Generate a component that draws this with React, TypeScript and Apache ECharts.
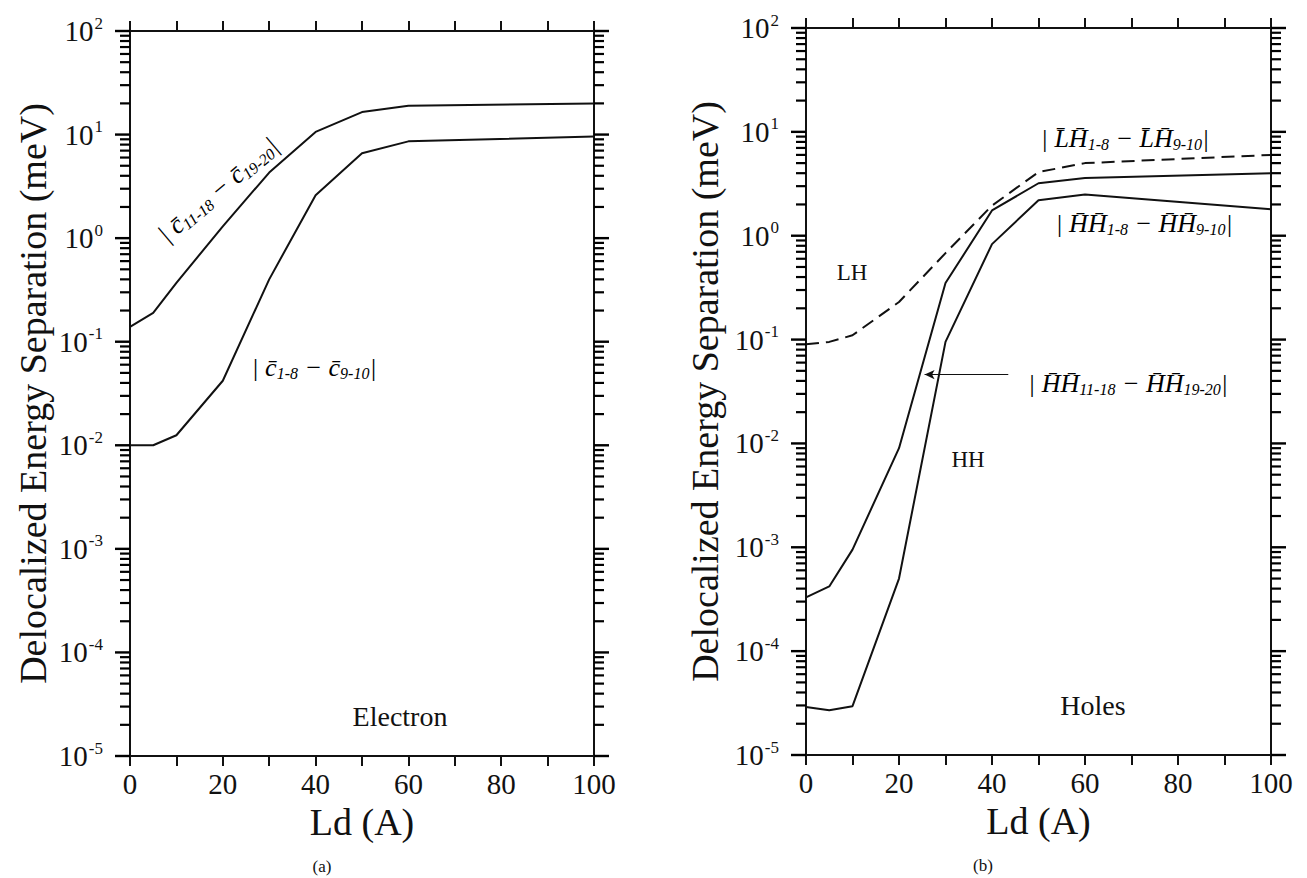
import { useEffect, useRef } from 'react';
import * as echarts from 'echarts';

// Ld (Angstrom) sample points
const ld = [0, 5, 10, 20, 30, 40, 50, 60, 100];
// (a) Electron
const elecUpper = [0.139, 0.19, 0.37, 1.3, 4.3, 10.6, 16.5, 19.0, 20.0]; // |C11-18 - C19-20|
const elecLower = [0.01, 0.01, 0.0125, 0.042, 0.4, 2.6, 6.6, 8.6, 9.6]; // |C1-8 - C9-10|
// (b) Holes
const lhCurve = [0.09, 0.095, 0.11, 0.23, 0.68, 1.95, 4.1, 5.0, 6.0]; // |LH1-8 - LH9-10|
const hhUpper = [3.3e-4, 4.2e-4, 9.5e-4, 0.009, 0.35, 1.75, 3.2, 3.6, 4.0]; // |HH11-18 - HH19-20|
const hhLower = [2.9e-5, 2.7e-5, 2.95e-5, 5e-4, 0.095, 0.83, 2.2, 2.5, 1.8]; // |HH1-8 - HH9-10|

const xLabelValues = [0, 20, 40, 60, 80, 100];
const decadeExponents = [-5, -4, -3, -2, -1, 0, 1, 2];
const minorMultipliers = [2, 3, 4, 5, 6, 7, 8, 9];

const SERIF = "'Liberation Serif', 'Times New Roman', serif";
const BLACK = '#111';

// y tick values of the log axis: [value, isMajor]
const yTickValues: [number, number][] = [];
decadeExponents.forEach((n, i) => {
  yTickValues.push([Math.pow(10, n), 1]);
  if (i < decadeExponents.length - 1) {
    minorMultipliers.forEach((k) => yTickValues.push([k * Math.pow(10, n), 0]));
  }
});

const grids = [
  { left: 130, top: 31, width: 464, height: 725 },
  { left: 806, top: 28, width: 465, height: 727 },
];

function makeYAxes(g: number, nameGap: number) {
  const line = { show: true, onZero: false, lineStyle: { color: BLACK, width: 2 } };
  return [
    {
      type: 'log', gridIndex: g, min: 1e-5, max: 100, logBase: 10,
      position: 'right',
      axisLine: line, axisTick: { show: false }, axisLabel: { show: false },
      splitLine: { show: false }, minorTick: { show: false },
    },
    {
      type: 'value', gridIndex: g, min: -5, max: 2, interval: 1, position: 'left',
      axisLine: line,
      axisTick: { show: false },
      splitLine: { show: false },
      axisLabel: {
        show: true, margin: 27, showMinLabel: true, showMaxLabel: true,
        formatter: (v: number) => `{b|10}{s|${v}}`,
        rich: {
          b: { fontFamily: SERIF, fontSize: 29, color: BLACK },
          s: { fontFamily: SERIF, fontSize: 17, color: BLACK, padding: [0, 0, 16, 1] },
        },
      },
      name: 'Delocalized Energy Separation (meV)',
      nameLocation: 'middle', nameRotate: 90, nameGap,
      nameTextStyle: { fontFamily: SERIF, fontSize: 38, color: BLACK },
    },
  ];
}

function makeXAxes(g: number) {
  const line = { show: true, onZero: false, lineStyle: { color: BLACK, width: 2 } };
  const tick = { show: true, inside: false, length: 10, lineStyle: { color: BLACK, width: 2 } };
  return [
    {
      type: 'value', gridIndex: g, min: 0, max: 100, interval: 10, position: 'bottom',
      axisLine: line, axisTick: tick,
      splitLine: { show: false },
      axisLabel: {
        margin: 13, fontFamily: SERIF, fontSize: 29, color: BLACK,
        formatter: (v: number) => (xLabelValues.includes(v) ? String(v) : ''),
      },
      name: 'Ld (A)', nameLocation: 'middle', nameGap: 46,
      nameTextStyle: { fontFamily: SERIF, fontSize: 38, color: BLACK },
    },
    {
      type: 'value', gridIndex: g, min: 0, max: 100, interval: 10, position: 'top',
      axisLine: line, axisTick: tick,
      splitLine: { show: false }, axisLabel: { show: false },
    },
  ];
}

const pairs = (ys: number[]) => ld.map((x, i) => [x, ys[i]]);

// y-axis tick marks (major decades and 2..9 minors) on both vertical edges,
// positioned through the log axis scale
function tickSeries(xIdx: number, yIdx: number) {
  return {
    type: 'custom', xAxisIndex: xIdx, yAxisIndex: yIdx, clip: false, z: 5,
    data: yTickValues.map(([v, m]) => [0, v, m]),
    encode: { x: 0, y: 1 },
    renderItem: (_params: any, api: any) => {
      const v = api.value(1);
      const major = api.value(2) === 1;
      const len = major ? 15 : 10;
      const pL = api.coord([0, v]);
      const pR = api.coord([100, v]);
      const style = { stroke: '#000', lineWidth: major ? 2.4 : 2.2 };
      return {
        type: 'group',
        children: [
          { type: 'line', shape: { x1: pL[0] - len, y1: pL[1], x2: pL[0], y2: pL[1] }, style },
          { type: 'line', shape: { x1: pR[0], y1: pR[1], x2: pR[0] + len, y2: pR[1] }, style },
        ],
      };
    },
  };
}

const handRich = {
  t: { fontFamily: SERIF, fontStyle: 'italic', fontSize: 26, color: BLACK },
  u: { fontFamily: SERIF, fontStyle: 'italic', fontSize: 16, color: BLACK, padding: [12, 0, 0, 0] },
};

function hand(x: number, y: number, text: string, rotationDeg = 0) {
  return {
    type: 'text', x, y, rotation: (rotationDeg * Math.PI) / 180, silent: true,
    style: { text, align: 'center', verticalAlign: 'middle', rich: handRich },
  };
}

function plain(x: number, y: number, text: string, fontSize: number) {
  return {
    type: 'text', x, y, silent: true,
    style: { text, fontFamily: SERIF, fontSize, fill: BLACK, align: 'center', verticalAlign: 'middle' },
  };
}

export default function App() {
  const ref = useRef<HTMLDivElement>(null);
  useEffect(() => {
    if (!ref.current) return;
    const chart = echarts.init(ref.current, undefined, { renderer: 'svg' });
    const solid = { color: BLACK, width: 2 };
    const option: any = {
      animation: false,
      backgroundColor: '#fff',
      textStyle: { fontFamily: SERIF },
      grid: grids,
      xAxis: [...makeXAxes(0), ...makeXAxes(1)],
      yAxis: [...makeYAxes(0, 78), ...makeYAxes(1, 82)],
      series: [
        tickSeries(0, 0),
        tickSeries(2, 2),
        { name: '|C11-18 - C19-20|', type: 'line', xAxisIndex: 0, yAxisIndex: 0, data: pairs(elecUpper), symbol: 'none', lineStyle: solid },
        { name: '|C1-8 - C9-10|', type: 'line', xAxisIndex: 0, yAxisIndex: 0, data: pairs(elecLower), symbol: 'none', lineStyle: solid },
        { name: '|LH1-8 - LH9-10|', type: 'line', xAxisIndex: 2, yAxisIndex: 2, data: pairs(lhCurve), symbol: 'none', lineStyle: { color: BLACK, width: 2, type: [13, 7] } },
        {
          name: '|HH11-18 - HH19-20|', type: 'line', xAxisIndex: 2, yAxisIndex: 2, data: pairs(hhUpper), symbol: 'none', lineStyle: solid,
          markLine: {
            silent: true, symbol: ['arrow', 'none'], symbolSize: [7, 10],
            label: { show: false },
            lineStyle: { color: BLACK, width: 1.2, type: 'solid' },
            data: [[{ coord: [25.5, 0.046] }, { coord: [43.5, 0.046] }]],
          },
        },
        { name: '|HH1-8 - HH9-10|', type: 'line', xAxisIndex: 2, yAxisIndex: 2, data: pairs(hhLower), symbol: 'none', lineStyle: solid },
      ],
      graphic: [
        hand(218, 190, '{t|| c\u0304}{u|11-18}{t| − c\u0304}{u|19-20}{t||}', 40),
        hand(314, 367, '{t|| c\u0304}{u|1-8}{t| − c\u0304}{u|9-10}{t||}'),
        hand(1125, 138, '{t|| L\u0304H\u0304}{u|1-8}{t| − L\u0304H\u0304}{u|9-10}{t||}'),
        hand(1144, 223, '{t|| H\u0304H\u0304}{u|1-8}{t| − H\u0304H\u0304}{u|9-10}{t||}'),
        hand(1128, 383, '{t|| H\u0304H\u0304}{u|11-18}{t| − H\u0304H\u0304}{u|19-20}{t||}'),
        plain(400, 716, 'Electron', 28),
        plain(1093, 705, 'Holes', 28),
        plain(852, 272, 'LH', 23),
        plain(968, 459, 'HH', 23),
        plain(322, 866, '(a)', 17),
        plain(983, 865, '(b)', 17),
      ],
    };
    chart.setOption(option);
    return () => chart.dispose();
  }, []);
  return (
    <div
      ref={ref}
      style={{ position: 'fixed', left: 0, top: 0, width: 1307, height: 878, background: '#fff' }}
    />
  );
}
